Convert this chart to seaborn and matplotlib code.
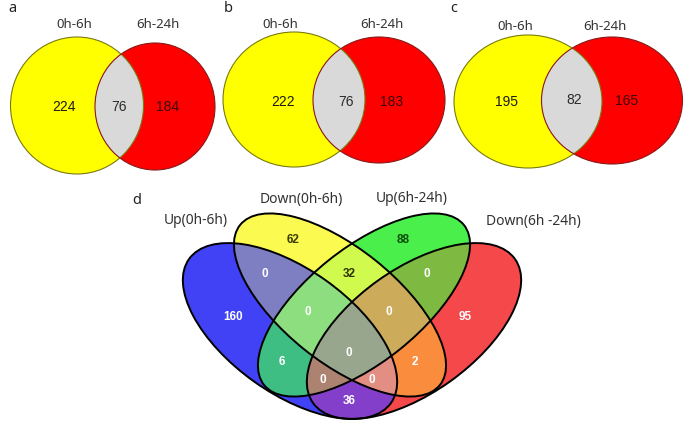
import numpy as np
import matplotlib
matplotlib.use("Agg")
import matplotlib.pyplot as plt
from matplotlib.patches import Ellipse
import seaborn as sns

# ---------------- data ----------------
two_set_panels = ["a", "b", "c"]
two_set_names = ["0h-6h", "6h-24h"]
only_first = [224, 222, 195]
shared = [76, 76, 82]
only_second = [184, 183, 165]

quad_panel = "d"
quad_names = ["Up(0h-6h)", "Down(0h-6h)", "Up(6h-24h)", "Down(6h -24h)"]
# membership bits: 1=Up(0h-6h), 2=Down(0h-6h), 4=Up(6h-24h), 8=Down(6h-24h)
quad_region_bits = [1, 2, 4, 8, 3, 6, 12, 5, 10, 9, 7, 14, 15, 13, 11]
quad_counts = [160, 62, 88, 95, 0, 32, 0, 6, 2, 36, 0, 0, 0, 0, 0]

# ---------------- style / layout ----------------
sns.set_theme(style="white")
plt.rcParams["font.family"] = ["Noto Sans", "DejaVu Sans"]

W, H = 685, 424
fig = plt.figure(figsize=(W / 100, H / 100), dpi=100)
ax = fig.add_axes([0, 0, 1, 1])
ax.set_xlim(0, W)
ax.set_ylim(H, 0)
ax.axis("off")

YELLOW, RED, GREY = "#ffff00", "#ff0000", "#d9d9d9"
top_geo = [
    ((77, 105.5, 66.5, 68.5), (155, 106.5, 60, 63.5)),
    ((294, 99.5, 71, 67.5), (379, 100, 66, 63)),
    ((528, 101.5, 74, 66.5), (612, 100.5, 70.5, 63.5)),
]
letter_pos = [(8, 9), (224, 9), (450, 9)]
name_pos = [((74, 25), (158, 25)), ((280, 25), (382, 25)), ((515, 27), (605, 27))]
num_pos = [((64, 107), (119, 107), (168, 107)),
           ((283, 102), (346, 102), (392, 102)),
           ((507, 102), (574, 100), (627, 101))]

for i in range(3):
    (yx, yy, yrx, yry), (rx_, ry_, rrx, rry) = top_geo[i]
    yel = Ellipse((yx, yy), 2 * yrx, 2 * yry, fc=YELLOW, ec="none", zorder=1)
    ax.add_patch(yel)
    red = Ellipse((rx_, ry_), 2 * rrx, 2 * rry, fc=RED, ec="none", zorder=2)
    ax.add_patch(red)
    gry = Ellipse((rx_, ry_), 2 * rrx, 2 * rry, fc=GREY, ec="none", zorder=3)
    ax.add_patch(gry)
    gry.set_clip_path(yel)
    ax.add_patch(Ellipse((yx, yy), 2 * yrx, 2 * yry, fill=False, ec="#7a7a10", lw=0.8, zorder=4))
    ax.add_patch(Ellipse((rx_, ry_), 2 * rrx, 2 * rry, fill=False, ec="#8a1a1a", lw=0.8, zorder=4))

    ax.text(*letter_pos[i], two_set_panels[i], fontsize=10.5, color="#222222",
            ha="left", va="center", zorder=6)
    for j in range(2):
        ax.text(*name_pos[i][j], two_set_names[j], fontsize=9.5, color="#333333",
                ha="center", va="center", zorder=6)
    vals = [only_first[i], shared[i], only_second[i]]
    cols = ["#1a1a1a", "#2a2a2a", "#3a0808"]
    for j in range(3):
        ax.text(*num_pos[i][j], str(vals[j]), fontsize=10, color=cols[j],
                family=["Liberation Sans", "DejaVu Sans"],
                ha="center", va="center", zorder=6)

# ---------------- four-set Venn ----------------
# ellipses in figure-pixel space: (cx, cy, semi-major, semi-minor, angle deg, bit)
ell = [
    (290, 331, 124, 62, 35.5, 1),
    (340, 305, 128, 57, 38.7, 2),
    (364, 305, 128, 57, -38.7, 4),
    (414, 331, 124, 62, -35.5, 8),
]

region_rgb = {
    1: (66, 66, 245), 2: (250, 250, 82), 4: (76, 240, 76), 8: (245, 72, 76),
    3: (126, 126, 196), 6: (208, 250, 78), 12: (126, 186, 66), 5: (62, 190, 132),
    10: (250, 140, 62), 9: (132, 62, 202), 7: (140, 222, 126), 14: (204, 172, 92),
    15: (152, 166, 140), 13: (172, 132, 112), 11: (226, 142, 132),
}
lut = np.zeros((16, 4))
for k, c in region_rgb.items():
    lut[k, :3] = np.array(c) / 255
    lut[k, 3] = 1.0

x0, x1, y0, y1 = 170, 535, 200, 424
XX, YY = np.meshgrid(np.linspace(x0, x1, 4 * (x1 - x0)),
                     np.linspace(y0, y1, 4 * (y1 - y0)))
code = np.zeros(XX.shape, dtype=int)
for cx, cy, a, b, rot, bit in ell:
    t = np.deg2rad(rot)
    dx, dy = XX - cx, YY - cy
    p = dx * np.cos(t) + dy * np.sin(t)
    q = -dx * np.sin(t) + dy * np.cos(t)
    code += bit * ((p / a) ** 2 + (q / b) ** 2 <= 1)
ax.imshow(lut[code], extent=(x0, x1, y1, y0), origin="upper", aspect="auto",
          interpolation="antialiased", zorder=1)

for cx, cy, a, b, rot, bit in ell:
    ax.add_patch(Ellipse((cx, cy), 2 * a, 2 * b, angle=rot, fill=False,
                         ec="black", lw=1.4, zorder=3))

quad_num_pos = {
    1: (233, 317), 2: (293, 240), 4: (403, 240), 8: (465, 317),
    3: (265, 274), 6: (349, 274), 12: (427, 274), 5: (282, 362),
    10: (415, 362), 9: (349, 401), 7: (308, 312), 14: (389, 312),
    15: (349, 353), 13: (323, 380), 11: (372, 380),
}
dark_text = {2: "#3d3d00", 6: "#2e3300", 4: "#0b4d0b"}
for bit, n in zip(quad_region_bits, quad_counts):
    ax.text(*quad_num_pos[bit], str(n), fontsize=8.5, fontweight="bold",
            color=dark_text.get(bit, "white"),
            family=["Liberation Sans", "DejaVu Sans"],
            ha="center", va="center", zorder=5)

quad_name_pos = [(196, 221), (301, 199), (412, 199), (533, 221)]
for name, pos in zip(quad_names, quad_name_pos):
    ax.text(*pos, name, fontsize=10, color="#333333", ha="center", va="center", zorder=5)
ax.text(137, 201, quad_panel, fontsize=10.5, color="#222222", ha="center", va="center", zorder=5)

fig.savefig("out.png", dpi=100)
